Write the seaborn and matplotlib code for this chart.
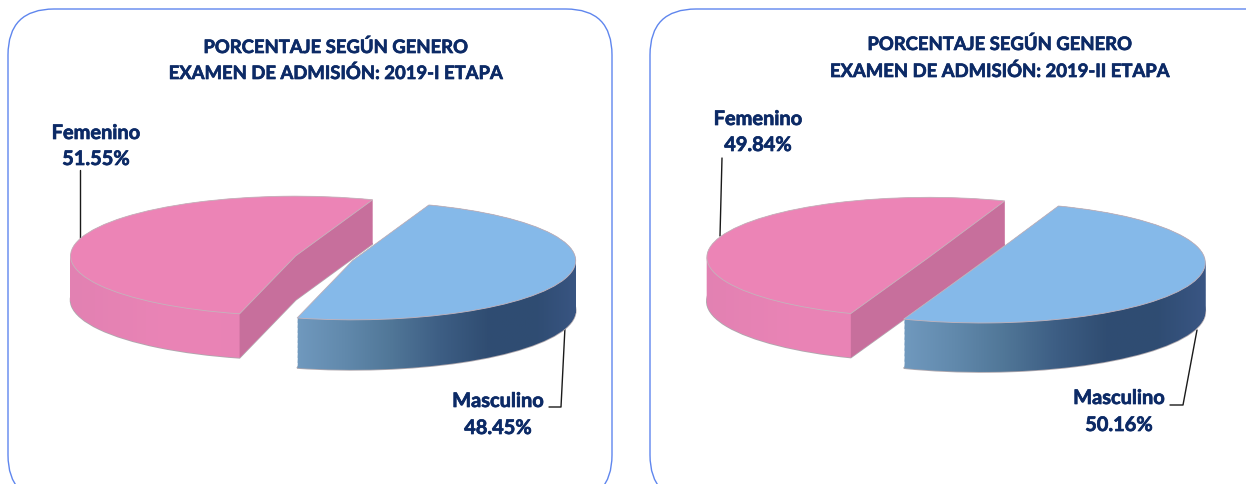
import numpy as np
import seaborn as sns
import matplotlib.pyplot as plt
import matplotlib.patheffects as pe
from matplotlib.colors import LinearSegmentedColormap
from matplotlib.patches import FancyBboxPatch, PathPatch, Polygon
from matplotlib.path import Path

generos = ['Femenino', 'Masculino']
etapa_1 = [51.55, 48.45]
etapa_2 = [49.84, 50.16]
titulo_1 = 'PORCENTAJE SEGÚN GENERO'
subtitulo_1 = 'EXAMEN DE ADMISIÓN: 2019-I ETAPA'
subtitulo_2 = 'EXAMEN DE ADMISIÓN: 2019-II ETAPA'

W, H = 1246, 484
TEXTO = '#0C2A66'
BORDE = '#5F86EE'

sns.set_theme(style='white')
plt.rcParams['font.family'] = ['Lato', 'DejaVu Sans']

top_colors = sns.color_palette(['#EC84B6', '#85B9E9'])
cut_colors = ['#C76F9C', None]
side_maps = [
    LinearSegmentedColormap.from_list('rosa', ['#E281B2', '#EA84B6', '#E883B5', '#E581B2']),
    LinearSegmentedColormap.from_list('azul', ['#7099BE', '#6189AC', '#507697', '#3D5E84', '#304D72', '#2F4C72', '#3A5684']),
]

fig = plt.figure(figsize=(W / 100, H / 100), dpi=100)
back = fig.add_axes([0, 0, 1, 1])
back.set_xlim(0, W)
back.set_ylim(H, 0)
back.axis('off')


def panel(x0, x1):
    back.add_patch(FancyBboxPatch((x0 + 46, 55), x1 - x0 - 92, 400,
                                  boxstyle='round,pad=46,rounding_size=46',
                                  fc='white', ec=BORDE, lw=1.0))


def pie3d(values, start, cx, cy, rx, ry, explode, scales, depths):
    ax = fig.add_axes([(cx - 1.3 * rx) / W, 1 - (cy + 2.2 * ry) / H, 2.6 * rx / W, 3.7 * ry / H])
    wedges, _ = ax.pie(values, startangle=start, explode=explode, colors=top_colors,
                       wedgeprops={'edgecolor': '#C4B4BC', 'linewidth': 0.6})
    for i, w in enumerate(wedges):
        w.set_radius(scales[i])
        d = depths[i] / ry
        z = 1 + i * 10
        w.set_zorder(z + 4)
        base = w.get_path().vertices
        codes = w.get_path().codes
        steps = [Path(base - [0, d * k / 40], codes) for k in range(41)]
        solid = Path.make_compound_path(*steps)
        ax.add_patch(PathPatch(steps[-1], fc='none', ec='#AFA8AE', lw=1.2, zorder=z))
        x0, x1 = base[:, 0].min(), base[:, 0].max()
        y0, y1 = base[:, 1].min() - d, base[:, 1].max()
        img = ax.imshow(np.linspace(0, 1, 256)[None, :], cmap=side_maps[i], extent=[x0, x1, y0, y1],
                        aspect='auto', zorder=z + 1, interpolation='bilinear')
        img.set_clip_path(PathPatch(solid, transform=ax.transData))
        if cut_colors[i]:
            c = np.array(w.center)
            a = c + scales[i] * np.array([np.cos(np.radians(w.theta1)), np.sin(np.radians(w.theta1))])
            b = c + scales[i] * np.array([np.cos(np.radians(w.theta2)), np.sin(np.radians(w.theta2))])
            low = np.array([0, d])
            ax.add_patch(Polygon([a, c, b, b - low, c - low, a - low], closed=True,
                                 fc=cut_colors[i], ec='none', zorder=z + 2))
    ax.set_aspect('auto')
    ax.set_xlim(-1.3, 1.3)
    ax.set_ylim(-2.2, 1.5)
    ax.axis('off')
    ax.patch.set_alpha(0)


def label(x, y, s, size=13.3):
    back.text(x, y, s, ha='center', va='center', color=TEXTO, fontsize=size, fontweight='bold',
              path_effects=[pe.withStroke(linewidth=0.5, foreground=TEXTO)])


panel(8, 612)
panel(650, 1300)

pie3d(etapa_1, 70, 333, 259, 226, 60, [0.173, 0.091], [0.996, 0.987], [44, 50])
pie3d(etapa_2, 70, 955.5, 260, 222, 60, [0.128, 0.128], [1.0, 1.005], [44, 49])

label(336, 47, titulo_1)
label(336, 73, subtitulo_1)
label(1000, 44, titulo_1)
label(1000, 71, subtitulo_2)

label(96, 133, generos[0], 14.4)
label(96, 159, f'{etapa_1[0]:.2f}%', 14.4)
label(498, 401, generos[1], 14.4)
label(498, 428, f'{etapa_1[1]:.2f}%', 14.4)
label(758, 119, generos[0], 14.4)
label(758, 145, f'{etapa_2[0]:.2f}%', 14.4)
label(1119, 398, generos[1], 14.4)
label(1119, 425, f'{etapa_2[1]:.2f}%', 14.4)

for xs, ys in [([80, 80], [170, 238]),
               ([565, 561, 549], [327, 407, 407]),
               ([720, 722], [236, 158]),
               ([1197, 1183, 1170], [330, 405, 405])]:
    back.plot(xs, ys, color='#1A1A1A', lw=1.0)

fig.savefig('out.png', dpi=100)
